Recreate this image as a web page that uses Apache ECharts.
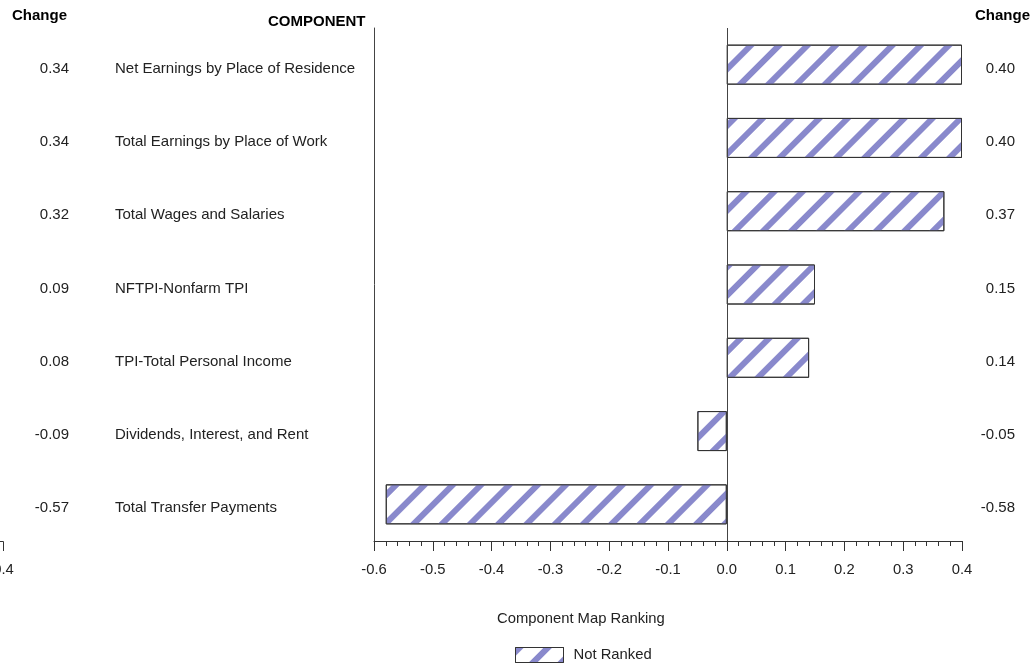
<!DOCTYPE html>
<html><head><meta charset="utf-8">
<script src="https://cdn.jsdelivr.net/npm/echarts@6/dist/echarts.min.js"></script>
<style>html,body{margin:0;padding:0;background:#fff}#c{width:1034px;height:664px}</style>
</head><body><div id="c"></div>
<script>
const components = ['Net Earnings by Place of Residence','Total Earnings by Place of Work','Total Wages and Salaries','NFTPI-Nonfarm TPI','TPI-Total Personal Income','Dividends, Interest, and Rent','Total Transfer Payments'];
const changeLeft = ['0.34','0.34','0.32','0.09','0.08','-0.09','-0.57'];
const changeRight = [0.40,0.40,0.37,0.15,0.14,-0.05,-0.58];
const xTicks = {min:-0.6, max:0.4, interval:0.1};
const legendName = 'Not Ranked';

const FONT = 'Liberation Sans, Arial, sans-serif';
const TXT = '#222';
const FS = 15;
const chart = echarts.init(document.getElementById('c'), null, {renderer:'canvas'});
const decal = {symbol:'rect', dashArrayX:[1,0], dashArrayY:[6,14], rotation:-Math.PI/4, color:'#8989cc', symbolSize:1};
const lab = {fontSize:FS, color:TXT, fontFamily:FONT, verticalAlign:'top', lineHeight:8};
chart.setOption({
  animation:false,
  textStyle:{fontFamily:FONT},
  grid:{left:374, right:72, top:28, bottom:123, containLabel:false},
  xAxis:{type:'value', min:xTicks.min, max:xTicks.max, interval:xTicks.interval,
    axisLine:{show:true, onZero:false, lineStyle:{color:'#333'}},
    axisTick:{show:true, length:10, lineStyle:{color:'#333'}},
    minorTick:{show:true, splitNumber:5, length:5, lineStyle:{color:'#333'}},
    splitLine:{show:false},
    axisLabel:{formatter:v=>v.toFixed(1), fontSize:14.8, color:TXT, margin:21, fontFamily:FONT}
  },
  yAxis:[
    {type:'category', data:components, inverse:true, position:'left',
      axisLine:{show:true, onZero:false, lineStyle:{color:'#444'}}, axisTick:{show:false},
      axisLabel:Object.assign({align:'left', margin:259}, lab)},
    {type:'category', data:changeLeft, inverse:true, position:'left',
      axisLine:{show:false, onZero:false}, axisTick:{show:false},
      axisLabel:Object.assign({align:'right', margin:305}, lab)},
    {type:'category', data:changeRight.map(v=>v.toFixed(2)), inverse:true, position:'right',
      axisLine:{show:false, onZero:false}, axisTick:{show:false},
      axisLabel:Object.assign({align:'right', margin:53}, lab)}
  ],
  legend:{left:515, top:647, padding:0, icon:'rect', itemWidth:48, itemHeight:15, itemGap:10,
    textStyle:{fontSize:14.8, color:TXT, fontFamily:FONT, padding:[2,0,0,5]},
    itemStyle:{color:'#fff', borderColor:'#333', borderWidth:1, decal:decal},
    data:[legendName]},
  series:[{
    name:legendName, type:'bar', data:changeRight, barWidth:40,
    itemStyle:{color:'#fff', borderColor:'#333', borderWidth:1, decal:decal},
    markLine:{silent:true, symbol:['none','none'], label:{show:false},
      lineStyle:{color:'#444', type:'solid', width:1}, data:[{xAxis:0}]}
  }],
  graphic:[
    {type:'text', left:12, top:8, style:{text:'Change', font:'bold 15px '+FONT, fill:'#000'}},
    {type:'text', right:4, top:8, style:{text:'Change', font:'bold 15px '+FONT, fill:'#000'}},
    {type:'text', left:268, top:14, style:{text:'COMPONENT', font:'bold 15px '+FONT, fill:'#000'}},
    {type:'text', left:497, top:611, style:{text:'Component Map Ranking', font:'14.8px '+FONT, fill:TXT}},
    {type:'polyline', shape:{points:[[0,541.5],[3.5,541.5],[3.5,551]]}, style:{stroke:'#333', lineWidth:1, fill:null}},
    {type:'text', x:1, y:562, style:{text:'-0.4', font:'14.8px '+FONT, fill:TXT, textAlign:'center'}}
  ]
});
</script></body></html>
